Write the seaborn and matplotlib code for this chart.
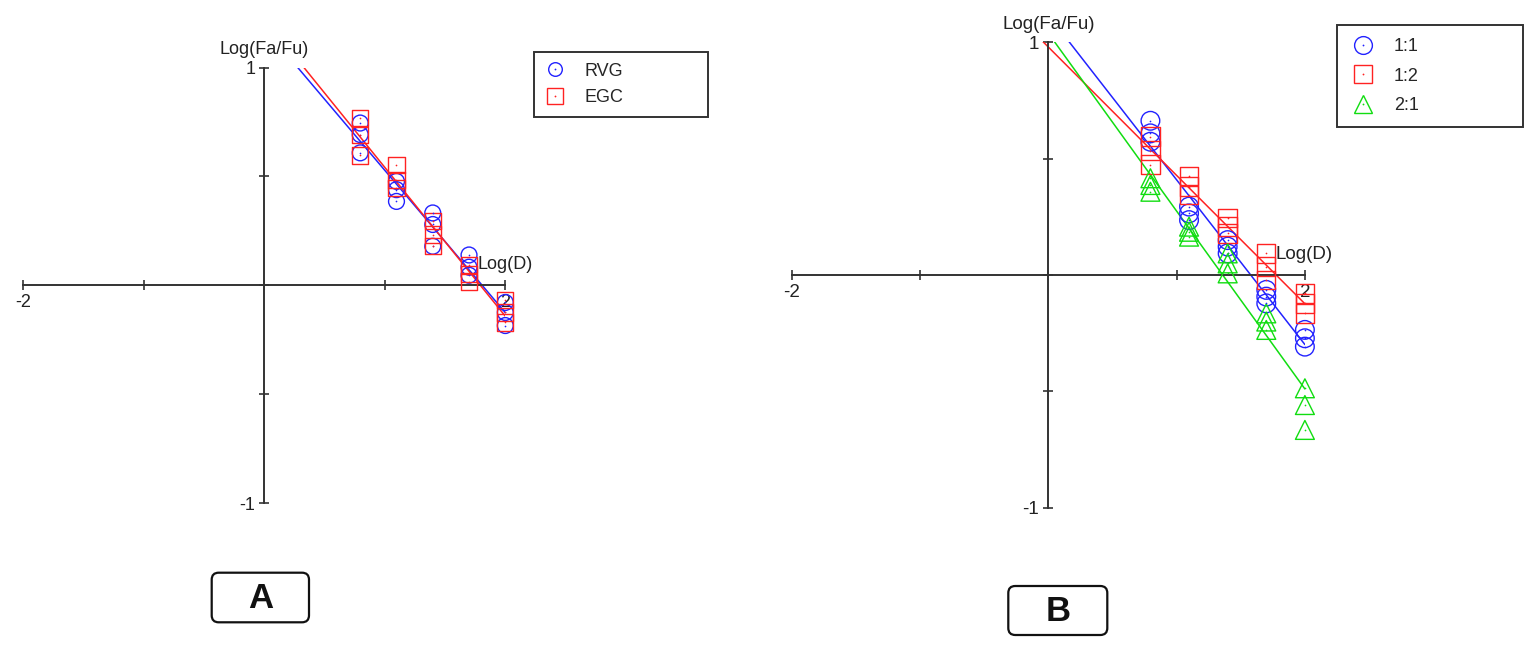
import numpy as np
import pandas as pd
import matplotlib
matplotlib.use("Agg")
import matplotlib.pyplot as plt
import seaborn as sns
from matplotlib.lines import Line2D
from matplotlib.legend_handler import HandlerTuple
from matplotlib.patches import FancyBboxPatch

# ---------------- data ----------------
log_dose = [0.796, 1.097, 1.398, 1.699, 2.0]

a_rvg = [[0.745, 0.692, 0.608], [0.477, 0.439, 0.385], [0.332, 0.279, 0.179],
         [0.139, 0.083, 0.046], [-0.079, -0.125, -0.185]]
a_egc = [[0.770, 0.690, 0.596], [0.554, 0.485, 0.447], [0.294, 0.233, 0.179],
         [0.093, 0.051, 0.014], [-0.069, -0.125, -0.171]]

b_11 = [[0.663, 0.609, 0.573], [0.294, 0.265, 0.236], [0.150, 0.122, 0.093],
        [-0.064, -0.093, -0.122], [-0.236, -0.272, -0.308]]
b_12 = [[0.595, 0.535, 0.475], [0.426, 0.380, 0.344], [0.244, 0.208, 0.179],
        [0.093, 0.036, -0.021], [-0.079, -0.122, -0.165]]
b_21 = [[0.416, 0.387, 0.358], [0.208, 0.186, 0.165], [0.093, 0.050, 0.007],
        [-0.165, -0.200, -0.236], [-0.487, -0.559, -0.666]]

labels_a = ["RVG", "EGC"]
labels_b = ["1:1", "1:2", "2:1"]
x_ticklabels = ["-2", "", "", "", "2"]
y_ticklabels = ["-1", "", "", "", "1"]
x_label = "Log(D)"
y_label = "Log(Fa/Fu)"
panel_letters = ["A", "B"]


def long_df(values):
    xs, ys = [], []
    for d, reps in zip(log_dose, values):
        for r in reps:
            xs.append(d)
            ys.append(r)
    return pd.DataFrame({"x": xs, "y": ys})


# ---------------- style ----------------
sns.set_style("white")
plt.rcParams["font.family"] = ["Liberation Sans", "DejaVu Sans"]
AX_COL = "#333333"
BLUE, RED, GREEN = "#2222ff", "#ff2222", "#11dd11"

W, H = 1539, 646
fig = plt.figure(figsize=(W / 100, H / 100), dpi=100)


def px_axes(x0, x1, ytop, ybot):
    return fig.add_axes([x0 / W, (H - ybot) / H, (x1 - x0) / W, (ybot - ytop) / H])


def style_axes(ax, fs):
    ax.set_xlim(-2, 2)
    ax.set_ylim(-1, 1)
    for s in ["top", "right"]:
        ax.spines[s].set_visible(False)
    for s in ["left", "bottom"]:
        ax.spines[s].set_position(("data", 0))
        ax.spines[s].set_color(AX_COL)
        ax.spines[s].set_linewidth(1.4)
    ax.set_xticks([-2, -1, 0, 1, 2])
    ax.set_xticklabels(x_ticklabels)
    ax.set_yticks([-1, -0.5, 0, 0.5, 1])
    ax.set_yticklabels(y_ticklabels)
    ax.tick_params(bottom=True, left=True, top=False, right=False,
                   direction="inout", length=7, width=1.2, color=AX_COL,
                   labelsize=fs, labelcolor="#222222")
    ax.tick_params(axis="x", pad=3)
    ax.tick_params(axis="y", pad=3)
    ax.set_xlabel("")
    ax.set_ylabel("")
    ax.patch.set_alpha(0)


def draw_series(ax, values, marker, color, s):
    df = long_df(values)
    sns.regplot(data=df, x="x", y="y", scatter=False, ci=None, truncate=False,
                color=color, line_kws={"lw": 1.1}, ax=ax)
    sns.scatterplot(data=df, x="x", y="y", marker=marker, s=s, facecolors="none",
                    edgecolor=color, linewidth=1.0, clip_on=False, legend=False,
                    ax=ax, zorder=3)
    sns.scatterplot(data=df, x="x", y="y", marker="o", s=1.5, color=color,
                    linewidth=0, clip_on=False, legend=False, ax=ax, zorder=4)


def make_handle(marker, color, ms):
    h1 = Line2D([], [], marker=marker, ls="none", mfc="none", mec=color, ms=ms, mew=1.0)
    h2 = Line2D([], [], marker="o", ls="none", mfc=color, mec=color, ms=1.3, mew=0)
    return (h1, h2)


HMAP = {tuple: HandlerTuple(ndivide=1, pad=0)}

# ---------------- panel A ----------------
axA = px_axes(23.3, 505.3, 67.5, 503.0)
axA.set_xlim(-2, 2)
axA.set_ylim(-1, 1)
draw_series(axA, a_rvg, "o", BLUE, 130)
draw_series(axA, a_egc, "s", RED, 135)
style_axes(axA, 13)
axA.text(1.77, 0.093, x_label, ha="left", va="center", fontsize=13, color="#222222")
axA.annotate(y_label, xy=(0, 1), xytext=(0, 7), textcoords="offset points",
             ha="center", va="bottom", fontsize=13, color="#222222")
legA = axA.legend(handles=[make_handle("o", BLUE, 9.8), make_handle("s", RED, 11)],
                  labels=labels_a, handler_map=HMAP,
                  loc="upper left", bbox_to_anchor=(534 / W, (H - 51.7) / H, 174 / W, 0),
                  bbox_transform=fig.transFigure, mode="expand", borderaxespad=0,
                  frameon=True, fancybox=False, edgecolor=AX_COL, framealpha=1,
                  fontsize=13, borderpad=0.6, labelspacing=0.55, handlelength=1.15,
                  handletextpad=1.05)
legA.get_frame().set_linewidth(1.4)

# ---------------- panel B ----------------
axB = px_axes(791.7, 1304.9, 42.4, 507.6)
axB.set_xlim(-2, 2)
axB.set_ylim(-1, 1)
draw_series(axB, b_11, "o", BLUE, 180)
draw_series(axB, b_12, "s", RED, 175)
draw_series(axB, b_21, "^", GREEN, 185)
style_axes(axB, 13.5)
axB.text(1.77, 0.086, x_label, ha="left", va="center", fontsize=13.5, color="#222222")
axB.annotate(y_label, xy=(0, 1), xytext=(0, 7), textcoords="offset points",
             ha="center", va="bottom", fontsize=13.5, color="#222222")
legB = axB.legend(handles=[make_handle("o", BLUE, 12.8), make_handle("s", RED, 12.3),
                           make_handle("^", GREEN, 13)],
                  labels=labels_b, handler_map=HMAP,
                  loc="upper left", bbox_to_anchor=(1337.3 / W, (H - 25) / H, 186 / W, 0),
                  bbox_transform=fig.transFigure, mode="expand", borderaxespad=0,
                  frameon=True, fancybox=False, edgecolor=AX_COL, framealpha=1,
                  fontsize=13, borderpad=0.72, labelspacing=0.7, handlelength=1.45,
                  handletextpad=0.95)
legB.get_frame().set_linewidth(1.4)

# ---------------- panel letter boxes ----------------
axBG = fig.add_axes([0, 0, 1, 1], zorder=-1)
axBG.set_xlim(0, W)
axBG.set_ylim(H, 0)
axBG.axis("off")
boxes = [(211.7, 572.7, 97.3, 49.6), (1008.3, 586.0, 99.0, 49.0)]
for (bx, by, bw, bh), letter in zip(boxes, panel_letters):
    axBG.add_patch(FancyBboxPatch((bx, by), bw, bh,
                                  boxstyle="round,pad=0,rounding_size=7",
                                  fc="white", ec="#111111", lw=1.6))
    axBG.text(bx + bw / 2, by + bh / 2 + 1, letter, ha="center", va="center",
              fontsize=25, fontweight="bold", color="#111111")

fig.savefig("out.png", dpi=100)
